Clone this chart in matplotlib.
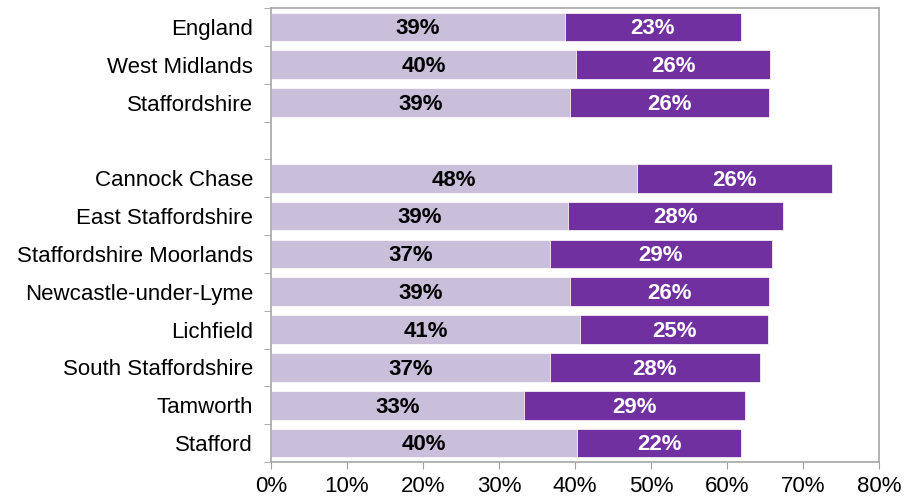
import matplotlib
matplotlib.use("Agg")
import matplotlib.pyplot as plt
import numpy as np

plt.rcParams['font.family'] = ['Liberation Sans', 'DejaVu Sans']

categories = ["England", "West Midlands", "Staffordshire", "",
              "Cannock Chase", "East Staffordshire", "Staffordshire Moorlands",
              "Newcastle-under-Lyme", "Lichfield", "South Staffordshire",
              "Tamworth", "Stafford"]
light_vals = [38.7, 40.1, 39.3, None, 48.2, 39.1, 36.7, 39.3, 40.7, 36.7, 33.3, 40.3]
dark_vals = [23.1, 25.6, 26.2, None, 25.6, 28.3, 29.2, 26.2, 24.7, 27.6, 29.1, 21.6]
xticks = [0, 10, 20, 30, 40, 50, 60, 70, 80]

light_col = "#C9BFDB"
dark_col = "#7030A0"

fig = plt.figure(figsize=(9.14, 4.99), dpi=100)
ax = fig.add_axes([271/914, 1-462/499, (879-271)/914, (462-8)/499])

n = len(categories)
y = np.arange(n)
h = 0.76
fs = 16
for i in range(n):
    lv, dv = light_vals[i], dark_vals[i]
    if lv is None:
        continue
    ax.barh(y[i], lv, height=h, color=light_col, edgecolor="white", linewidth=0.5)
    ax.barh(y[i], dv, left=lv, height=h, color=dark_col, edgecolor="white", linewidth=0.5)
    ax.text(lv/2, y[i] + 0.05, f"{round(lv)}%", ha="center", va="center",
            fontsize=fs, fontweight="bold", color="black")
    ax.text(lv + dv/2, y[i] + 0.05, f"{round(dv)}%", ha="center", va="center",
            fontsize=fs, fontweight="bold", color="white")

ax.set_xlim(0, 80)
ax.set_ylim(n - 0.5, -0.5)
ax.set_xticks(xticks)
ax.set_xticklabels([f"{t}%" for t in xticks], fontsize=fs)
ax.set_yticks(y)
ax.set_yticklabels(categories, fontsize=fs)
ax.tick_params(axis="y", length=0, pad=13)
ax.set_yticks(np.arange(-0.5, n, 1), minor=True)
ax.tick_params(axis="y", which="minor", length=5, color="#A0A0A0")
ax.tick_params(axis="x", length=5, color="#A0A0A0", pad=5)
for s in ax.spines.values():
    s.set_color("#A6A6A6")
    s.set_linewidth(1.2)

fig.savefig("out.png", dpi=100)
